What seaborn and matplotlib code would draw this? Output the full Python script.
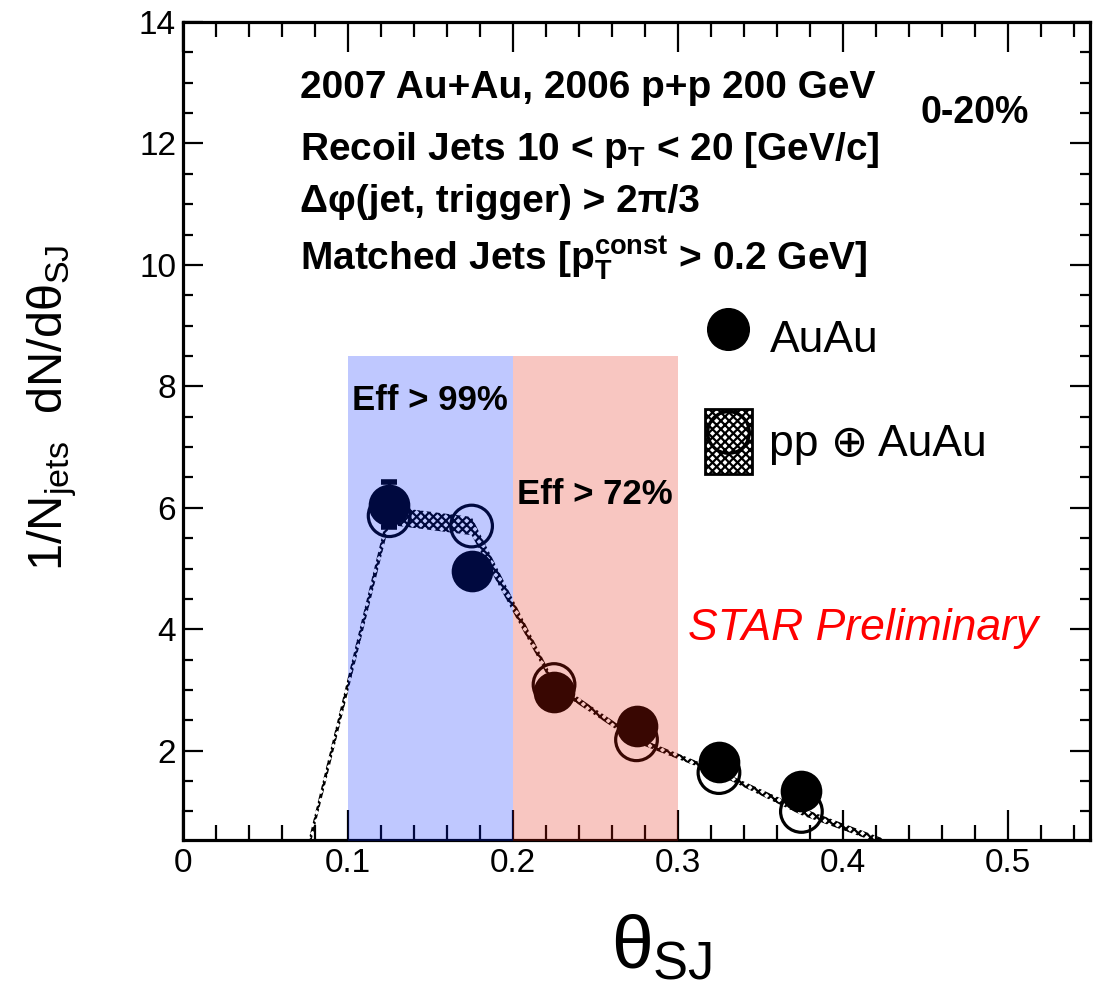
import numpy as np
import pandas as pd
import seaborn as sns
import matplotlib
matplotlib.use("Agg")
import matplotlib.pyplot as plt
from matplotlib.lines import Line2D
from matplotlib.patches import Rectangle
from matplotlib.legend_handler import HandlerTuple

# ---- data ----
theta_bins = [0.125, 0.175, 0.225, 0.275, 0.325, 0.375]
auau_vals = [6.05, 4.96, 2.97, 2.40, 1.82, 1.33]
auau_err = [0.37, 0.0, 0.0, 0.0, 0.0, 0.0]
pp_vals = [5.87, 5.70, 3.09, 2.18, 1.64, 1.00]

band_x = [0.075, 0.125, 0.175, 0.225, 0.275, 0.325, 0.375, 0.425]
band_y = [0.30, 5.87, 5.70, 3.09, 2.18, 1.64, 1.00, 0.50]
band_sys = [0.10, 0.15, 0.15, 0.06, 0.05, 0.04, 0.06, 0.05]

eff_ranges = [(0.1, 0.2), (0.2, 0.3)]
eff_labels = ["Eff > 99%", "Eff > 72%"]
eff_colors = ["#0327ff", "#e71f0b"]
eff_top = 8.5

x_ticks = [0, 0.1, 0.2, 0.3, 0.4, 0.5]
x_ticklabels = ["0", "0.1", "0.2", "0.3", "0.4", "0.5"]
y_ticks = [2, 4, 6, 8, 10, 12, 14]

info_lines = [
    "2007 Au+Au, 2006 p+p 200 GeV",
    r"Recoil Jets 10 < p$_{\mathbf{T}}$ < 20 [GeV/c]",
    "Δφ(jet, trigger) > 2π/3",
    r"Matched Jets [p$_{\mathbf{T}}^{\mathbf{const}}$ > 0.2 GeV]",
]

auau_df = pd.DataFrame({"theta": theta_bins, "val": auau_vals})
pp_df = pd.DataFrame({"theta": theta_bins, "val": pp_vals})

# ---- style ----
sns.set_theme(style="ticks")
plt.rcParams["font.family"] = ["Liberation Sans", "DejaVu Sans"]
plt.rcParams["text.color"] = "black"
plt.rcParams["axes.labelcolor"] = "black"
plt.rcParams["xtick.color"] = "black"
plt.rcParams["ytick.color"] = "black"
plt.rcParams["mathtext.fontset"] = "custom"
plt.rcParams["mathtext.rm"] = "Liberation Sans"
plt.rcParams["mathtext.it"] = "Liberation Sans"
plt.rcParams["mathtext.bf"] = "Liberation Sans:bold"
plt.rcParams["hatch.linewidth"] = 1.6
plt.rcParams["hatch.color"] = "black"

W, H = 1099, 993
fig = plt.figure(figsize=(W / 100, H / 100), dpi=100)
ax = fig.add_axes([183 / W, 1 - 840 / H, (1090 - 183) / W, (840 - 22) / H])

def fx(px):
    return px / W

def fy(py):
    return 1 - py / H

# systematic band for pp (+) AuAu
lo = np.array(band_y) - np.array(band_sys)
hi = np.array(band_y) + np.array(band_sys)
ax.fill_between(band_x, lo, hi, facecolor="none", edgecolor="black",
                hatch="xxxx", linewidth=0, zorder=2)

# AuAu points with statistical error bar
ax.errorbar(theta_bins, auau_vals, yerr=auau_err, fmt="none", ecolor="black",
            elinewidth=2.5, capsize=6, capthick=4, zorder=3)
sns.scatterplot(data=auau_df, x="theta", y="val", ax=ax, s=900, color="black",
                edgecolor="black", linewidth=0, zorder=4, legend=False)
sns.scatterplot(data=pp_df, x="theta", y="val", ax=ax, s=900, facecolor="none",
                edgecolor="black", linewidth=2.3, zorder=4, legend=False)

# efficiency regions, translucent overlay
for (a, b), c in zip(eff_ranges, eff_colors):
    ax.fill_between([a, b], [0, 0], [eff_top, eff_top], color=c, alpha=0.25,
                    linewidth=0, zorder=6)

ax.set_xlim(0, 0.55)
ax.set_ylim(0.53, 14)
ax.set_xticks(x_ticks)
ax.set_xticklabels(x_ticklabels)
ax.set_yticks(y_ticks)
ax.set_xticks(np.arange(0, 0.551, 0.02), minor=True)
ax.set_yticks(np.arange(1.0, 14.01, 0.5), minor=True)
ax.tick_params(axis="both", which="both", direction="in", top=True, right=True,
               width=1.6, colors="black")
ax.tick_params(axis="x", which="major", length=21.6, labelsize=24, pad=6)
ax.tick_params(axis="x", which="minor", length=10.8)
ax.tick_params(axis="y", which="major", length=14.4, labelsize=24, pad=5)
ax.tick_params(axis="y", which="minor", length=7.2)
for sp in ax.spines.values():
    sp.set_linewidth(2.3)
    sp.set_color("black")
ax.set_xlabel("")
ax.set_ylabel("")

fig.text(fx(52), fy(408), r"1/N$_{\mathrm{jets}}$  dN/d$\theta_{\mathrm{SJ}}$",
         rotation=90, ha="center", va="center", fontsize=35)
fig.text(fx(662), fy(948), r"$\theta_{\mathrm{SJ}}$", ha="center", va="center",
         fontsize=54)

# header text
baselines = [98, 160, 212, 270]
for line, yb in zip(info_lines, baselines):
    fig.text(fx(300), fy(yb), line, fontsize=28, fontweight="bold",
             ha="left", va="baseline", zorder=10)
fig.text(fx(920), fy(123), "0-20%", fontsize=27, fontweight="bold",
         ha="left", va="baseline", zorder=10)

eff_pos = [(352, 410), (517, 504)]
for lab, (px, py) in zip(eff_labels, eff_pos):
    fig.text(fx(px), fy(py), lab, fontsize=25, fontweight="bold",
             ha="left", va="baseline", zorder=10)

fig.text(fx(688), fy(640), "STAR Preliminary", color="#ff0000", fontsize=32,
         fontstyle="italic", ha="left", va="baseline", zorder=10)

# legend
h_auau = Line2D([], [], marker="o", ms=30, color="black", ls="")
h_rect = Rectangle((0, 0), 1, 1, facecolor="white", edgecolor="black",
                   hatch="xxxx", linewidth=2)
h_open = Line2D([], [], marker="o", ms=30, mfc="none", mec="black", mew=2.3, ls="")
leg = fig.legend([h_auau, (h_rect, h_open)], ["AuAu", "pp ⊕ AuAu"],
                 handler_map={tuple: HandlerTuple(ndivide=1, pad=0)},
                 loc="upper left", bbox_to_anchor=(fx(705), fy(305)),
                 frameon=False, fontsize=32, handlelength=1.05, handleheight=1.9,
                 handletextpad=0.4, labelspacing=0.85, borderpad=0,
                 borderaxespad=0)

fig.savefig("out.png", dpi=100, facecolor="white")
